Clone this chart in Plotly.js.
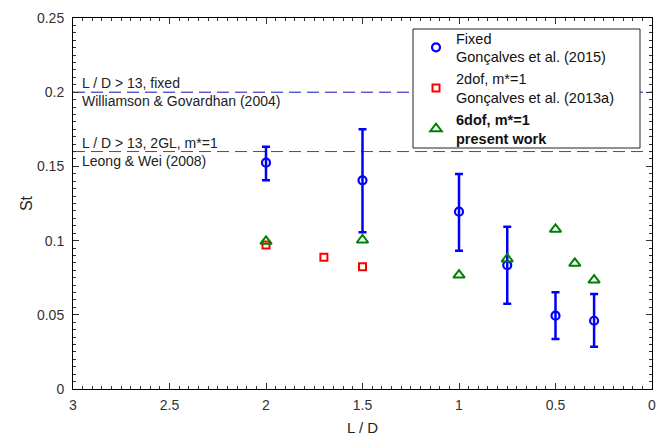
<!DOCTYPE html>
<html>
<head>
<meta charset="utf-8">
<script src="https://cdn.plot.ly/plotly-3.0.1.min.js"></script>
<style>html,body{margin:0;padding:0;background:#fff;}#chart{width:665px;height:437px;}</style>
</head>
<body>
<div id="chart"></div>
<script>
// Fixed, Gonçalves et al. (2015)
const fixedX = [2, 1.5, 1, 0.75, 0.5, 0.3];
const fixedY = [0.1525, 0.1406, 0.1195, 0.0834, 0.0494, 0.046];
const fixedErrPlus = [0.0108, 0.0344, 0.0254, 0.026, 0.0158, 0.018];
const fixedErrMinus = [0.0119, 0.035, 0.0263, 0.026, 0.0157, 0.0175];
// 2dof, m*=1, Gonçalves et al. (2013a)
const dof2X = [2, 1.7, 1.5];
const dof2Y = [0.097, 0.0887, 0.0824];
// 6dof, m*=1, present work
const dof6X = [2, 1.5, 1, 0.75, 0.5, 0.4, 0.3];
const dof6Y = [0.0995, 0.1004, 0.0768, 0.0876, 0.1076, 0.0847, 0.0734];
// reference lines (L/D > 13)
const refX = [3, 0];
const refFixedY = [0.2, 0.2];
const ref2GLY = [0.16, 0.16];

const font = "Liberation Sans, Arial, Helvetica, sans-serif";

const traces = [
  {x: refX, y: refFixedY, mode: 'lines', line: {color: '#1010c0', width: 1, dash: '12px,6px'}, showlegend: false, hoverinfo: 'skip'},
  {x: refX, y: ref2GLY, mode: 'lines', line: {color: '#e01010', width: 1, dash: '12px,6px'}, showlegend: false, hoverinfo: 'skip'},
  {x: fixedX, y: fixedY, mode: 'markers', name: 'Fixed<br>Gonçalves et al. (2015)',
   marker: {symbol: 'circle-open', size: 8, color: '#0000ff', line: {width: 2.2, color: '#0000ff'}},
   error_y: {type: 'data', symmetric: false, array: fixedErrPlus, arrayminus: fixedErrMinus, color: '#0000ff', thickness: 2.5, width: 4}},
  {x: dof2X, y: dof2Y, mode: 'markers', name: '2dof, m*=1<br>Gonçalves et al. (2013a)',
   marker: {symbol: 'square-open', size: 7, color: '#ff0000', line: {width: 2, color: '#ff0000'}}},
  {x: dof6X, y: dof6Y, mode: 'markers', name: '<b>6dof, m*=1<br>present work</b>',
   marker: {symbol: 'triangle-up-open', size: 10, color: '#008000', line: {width: 2, color: '#008000'}}}
];

const axisCommon = {
  showgrid: false, zeroline: false, showline: true, linecolor: '#000', linewidth: 1,
  mirror: 'allticks', ticks: 'inside', ticklen: 6, tickcolor: '#333', tickwidth: 1,
  tickfont: {family: font, size: 14, color: '#333'}
};

// plot area in pixels: x 73..652, y 18..389
const px = v => (v - 73) / 579;
const py = v => (389 - v) / 371;

const layout = {
  width: 665, height: 437,
  margin: {l: 73, r: 13, t: 18, b: 48},
  paper_bgcolor: '#fff', plot_bgcolor: '#fff',
  font: {family: font, color: '#222'},
  xaxis: Object.assign({}, axisCommon, {
    range: [3, 0], tickmode: 'linear', tick0: 0, dtick: 0.5,
    ticklabelstandoff: 3,
    minor: {dtick: 0.05, ticks: 'inside', ticklen: 3, tickcolor: '#333', tickwidth: 1},
    title: {text: 'L / D', font: {family: font, size: 15, color: '#222'}, standoff: 10}
  }),
  yaxis: Object.assign({}, axisCommon, {
    range: [0, 0.25], tickmode: 'linear', tick0: 0, dtick: 0.05,
    ticklabelstandoff: 5,
    minor: {dtick: 0.005, ticks: 'inside', ticklen: 3, tickcolor: '#333', tickwidth: 1},
    title: {text: 'St', font: {family: font, size: 16, color: '#222'}, standoff: 0}
  }),
  legend: {
    x: px(416), y: py(22), xanchor: 'left', yanchor: 'top',
    bgcolor: 'rgba(0,0,0,0)', borderwidth: 0,
    font: {family: font, size: 14.5, color: '#111'},
    tracegroupgap: 0, itemwidth: 30
  },
  shapes: [
    {type: 'rect', xref: 'paper', yref: 'paper', x0: px(413), x1: px(640), y0: py(148), y1: py(29),
     fillcolor: '#fff', line: {color: '#222', width: 1}, layer: 'above'}
  ],
  annotations: [
    {xref: 'paper', yref: 'y', x: 0.012, y: 0.2, yshift: 9, text: 'L / D > 13, fixed', showarrow: false, xanchor: 'left', font: {family: font, size: 14, color: '#222'}},
    {xref: 'paper', yref: 'y', x: 0.012, y: 0.2, yshift: -9, text: 'Williamson & Govardhan (2004)', showarrow: false, xanchor: 'left', font: {family: font, size: 14, color: '#222'}},
    {xref: 'paper', yref: 'y', x: 0.012, y: 0.16, yshift: 9, text: 'L / D > 13, 2GL, m*=1', showarrow: false, xanchor: 'left', font: {family: font, size: 14, color: '#222'}},
    {xref: 'paper', yref: 'y', x: 0.012, y: 0.16, yshift: -9, text: 'Leong & Wei (2008)', showarrow: false, xanchor: 'left', font: {family: font, size: 14, color: '#222'}}
  ]
};

Plotly.newPlot('chart', traces, layout, {displayModeBar: false, staticPlot: true});
</script>
</body>
</html>
